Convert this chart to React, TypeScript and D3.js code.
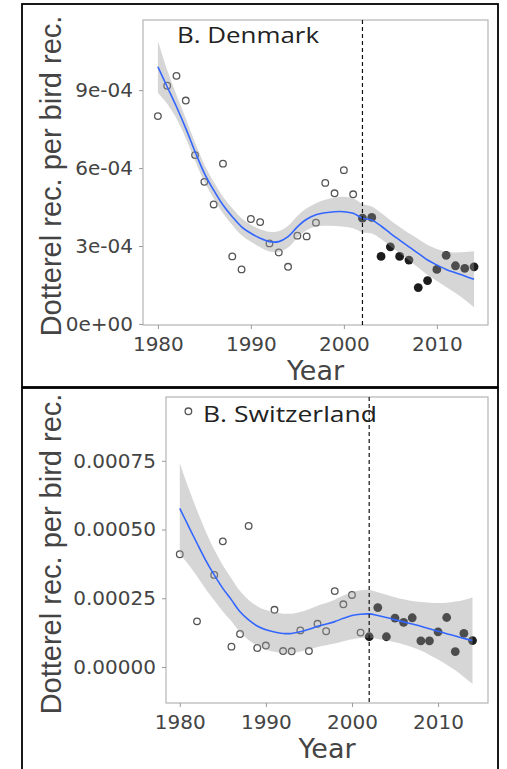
import React, { useEffect, useRef } from "react";
import * as d3 from "d3";

// survey years (Denmark has all years, Switzerland lacks 1983)
const dkYears = [1980, 1981, 1982, 1983, 1984, 1985, 1986, 1987, 1988, 1989,
  1990, 1991, 1992, 1993, 1994, 1995, 1996, 1997, 1998, 1999,
  2000, 2001, 2002, 2003, 2004, 2005, 2006, 2007, 2008, 2009,
  2010, 2011, 2012, 2013, 2014];
const dkValues = [8.0e-4, 9.17e-4, 9.55e-4, 8.6e-4, 6.5e-4, 5.47e-4, 4.6e-4, 6.17e-4, 2.6e-4, 2.1e-4,
  4.04e-4, 3.92e-4, 3.1e-4, 2.75e-4, 2.2e-4, 3.4e-4, 3.37e-4, 3.9e-4, 5.43e-4, 5.03e-4,
  5.92e-4, 4.99e-4, 4.07e-4, 4.1e-4, 2.6e-4, 2.97e-4, 2.6e-4, 2.46e-4, 1.4e-4, 1.67e-4,
  2.1e-4, 2.64e-4, 2.24e-4, 2.14e-4, 2.2e-4];

const chYears = [1980, 1981, 1982, 1984, 1985, 1986, 1987, 1988, 1989,
  1990, 1991, 1992, 1993, 1994, 1995, 1996, 1997, 1998, 1999,
  2000, 2001, 2002, 2003, 2004, 2005, 2006, 2007, 2008, 2009,
  2010, 2011, 2012, 2013, 2014];
const chValues = [4.1e-4, 9.3e-4, 1.66e-4, 3.35e-4, 4.57e-4, 0.74e-4, 1.2e-4, 5.13e-4, 0.69e-4,
  0.78e-4, 2.08e-4, 0.58e-4, 0.57e-4, 1.33e-4, 0.58e-4, 1.57e-4, 1.3e-4, 2.76e-4, 2.28e-4,
  2.62e-4, 1.25e-4, 1.1e-4, 2.16e-4, 1.1e-4, 1.78e-4, 1.62e-4, 1.79e-4, 0.95e-4, 0.95e-4,
  1.28e-4, 1.8e-4, 0.56e-4, 1.22e-4, 0.96e-4];

// loess fit and half-width of its confidence band
const fitYears = dkYears;
const dkFit = [9.9e-4, 9.13e-4, 8.36e-4, 7.53e-4, 6.63e-4, 5.8e-4, 5.15e-4, 4.58e-4, 4.13e-4, 3.74e-4,
  3.49e-4, 3.3e-4, 3.17e-4, 3.17e-4, 3.36e-4, 3.74e-4, 4.03e-4, 4.2e-4, 4.28e-4, 4.32e-4,
  4.32e-4, 4.26e-4, 4.07e-4, 4.0e-4, 3.77e-4, 3.49e-4, 3.23e-4, 2.97e-4, 2.72e-4, 2.46e-4,
  2.27e-4, 2.1e-4, 1.97e-4, 1.85e-4, 1.72e-4];
const dkSe = [1.0e-4, 0.65e-4, 0.45e-4, 0.38e-4, 0.35e-4, 0.33e-4, 0.32e-4, 0.32e-4, 0.32e-4, 0.33e-4,
  0.33e-4, 0.35e-4, 0.38e-4, 0.4e-4, 0.42e-4, 0.42e-4, 0.42e-4, 0.45e-4, 0.5e-4, 0.55e-4,
  0.58e-4, 0.58e-4, 0.55e-4, 0.52e-4, 0.5e-4, 0.5e-4, 0.5e-4, 0.52e-4, 0.55e-4, 0.58e-4,
  0.62e-4, 0.68e-4, 0.78e-4, 0.92e-4, 1.08e-4];
const chFit = [5.77e-4, 5.13e-4, 4.5e-4, 3.89e-4, 3.35e-4, 2.86e-4, 2.44e-4, 2.01e-4, 1.71e-4, 1.49e-4,
  1.35e-4, 1.27e-4, 1.22e-4, 1.22e-4, 1.28e-4, 1.37e-4, 1.48e-4, 1.56e-4, 1.65e-4, 1.77e-4,
  1.87e-4, 1.92e-4, 1.93e-4, 1.87e-4, 1.8e-4, 1.72e-4, 1.64e-4, 1.56e-4, 1.48e-4, 1.39e-4,
  1.3e-4, 1.21e-4, 1.13e-4, 1.04e-4, 0.96e-4];
const chSe = [1.65e-4, 1.4e-4, 1.2e-4, 1.05e-4, 0.92e-4, 0.84e-4, 0.78e-4, 0.75e-4, 0.73e-4, 0.72e-4,
  0.72e-4, 0.72e-4, 0.72e-4, 0.72e-4, 0.72e-4, 0.73e-4, 0.75e-4, 0.77e-4, 0.8e-4, 0.83e-4,
  0.86e-4, 0.87e-4, 0.87e-4, 0.85e-4, 0.83e-4, 0.82e-4, 0.82e-4, 0.84e-4, 0.88e-4, 0.95e-4,
  1.03e-4, 1.13e-4, 1.25e-4, 1.4e-4, 1.57e-4];

const xTicks = [1980, 1990, 2000, 2010];
const dkTicks = [0, 3e-4, 6e-4, 9e-4];
const dkTickLabels = ["0e+00", "3e-04", "6e-04", "9e-04"];
const chTicks = [0, 2.5e-4, 5e-4, 7.5e-4];
const chTickLabels = ["0.00000", "0.00025", "0.00050", "0.00075"];
const breakYear = 2002;

const yTitle = "Dotterel rec. per bird rec.";
const xTitle = "Year";

function drawPanel(svg: any, p: any) {
  const x = d3.scaleLinear().domain(p.xDomain).range([p.left, p.right]);
  const y = d3.scaleLinear().domain(p.yDomain).range([p.bottom, p.top]);

  // outer frame
  svg.append("rect")
    .attr("x", p.frame[0]).attr("y", p.frame[1])
    .attr("width", p.frame[2]).attr("height", p.frame[3])
    .attr("fill", "white").attr("stroke", "black").attr("stroke-width", 1.8);

  svg.append("rect")
    .attr("x", p.left).attr("y", p.top)
    .attr("width", p.right - p.left).attr("height", p.bottom - p.top)
    .attr("fill", "white").attr("stroke", "#b5b5b5").attr("stroke-width", 1.2);

  const xAxis = d3.axisBottom(x).tickValues(p.xTicks).tickFormat(d3.format("d"))
    .tickSize(4).tickPadding(8);
  const yAxis = d3.axisLeft(y).tickValues(p.yTicks)
    .tickFormat((d: any, i: number) => p.yLabels[i]).tickSize(4).tickPadding(6);

  [svg.append("g").attr("transform", "translate(0," + p.bottom + ")").call(xAxis),
   svg.append("g").attr("transform", "translate(" + p.left + ",0)").call(yAxis)]
    .forEach((ax: any) => {
      ax.select(".domain").remove();
      ax.selectAll(".tick line").attr("stroke", "#999");
      ax.selectAll(".tick text")
        .attr("fill", "#444")
        .style("font-family", "'DejaVu Sans', sans-serif")
        .style("font-size", "20px");
    });

  const pts = p.years.map((yr: number, i: number) => ({ yr, v: p.values[i] }));

  svg.append("g").selectAll("circle")
    .data(pts)
    .enter()
    .append("circle")
    .attr("cx", (d: any) => x(d.yr))
    .attr("cy", (d: any) => y(d.v))
    .attr("r", (d: any) => d.yr >= breakYear ? 4.4 : 3.3)
    .attr("fill", (d: any) => d.yr >= breakYear ? "#1c1c1c" : "none")
    .attr("stroke", (d: any) => d.yr >= breakYear ? "none" : "#555")
    .attr("stroke-width", 1.3);

  const fit = fitYears.map((yr, i) => ({ yr, f: p.fit[i], se: p.se[i] }));

  const band = d3.area<any>()
    .x((d) => x(d.yr))
    .y0((d) => y(d.f - d.se))
    .y1((d) => y(d.f + d.se))
    .curve(d3.curveCatmullRom);
  svg.append("path").datum(fit).attr("d", band)
    .attr("fill", "#999").attr("fill-opacity", 0.4);

  const line = d3.line<any>()
    .x((d) => x(d.yr))
    .y((d) => y(d.f))
    .curve(d3.curveCatmullRom);
  svg.append("path").datum(fit).attr("d", line)
    .attr("fill", "none").attr("stroke", "#3366FF").attr("stroke-width", 1.6);

  svg.append("line")
    .attr("x1", x(breakYear)).attr("x2", x(breakYear))
    .attr("y1", p.top).attr("y2", p.bottom)
    .attr("stroke", "#111").attr("stroke-width", 1.2)
    .attr("stroke-dasharray", "4,3");

  svg.append("text")
    .attr("x", p.titleX).attr("y", p.titleY)
    .attr("textLength", p.titleLen).attr("lengthAdjust", "spacingAndGlyphs")
    .style("font-family", "'Open Sans', sans-serif")
    .style("font-size", "22px")
    .attr("fill", "#222")
    .text(p.title);

  svg.append("text")
    .attr("x", (p.left + p.right) / 2).attr("y", p.xTitleY)
    .attr("text-anchor", "middle")
    .style("font-family", "'DejaVu Sans', sans-serif")
    .style("font-size", "27px")
    .attr("fill", "#444")
    .text(xTitle);

  svg.append("text")
    .attr("transform", "translate(61," + p.yTitleMid + ") rotate(-90)")
    .attr("text-anchor", "middle")
    .style("font-family", "'Liberation Sans', Arial, sans-serif")
    .style("font-size", "29px")
    .attr("fill", "#444")
    .text(yTitle);
}

export default function App() {
  const ref = useRef<SVGSVGElement>(null);

  useEffect(() => {
    const svg = d3.select(ref.current);
    svg.selectAll("*").remove();

    drawPanel(svg, {
      frame: [22, 4, 476, 383],
      left: 143, right: 488, top: 20, bottom: 325,
      xDomain: [1978.4, 2015.5], yDomain: [-0.04e-4, 11.7e-4],
      xTicks, yTicks: dkTicks, yLabels: dkTickLabels,
      years: dkYears, values: dkValues, fit: dkFit, se: dkSe,
      title: "B. Denmark", titleX: 177, titleY: 43, titleLen: 142,
      xTitleY: 380, yTitleMid: 176,
    });

    drawPanel(svg, {
      frame: [22, 388, 476, 400],
      left: 166, right: 488, top: 397, bottom: 703,
      xDomain: [1978.4, 2015.8], yDomain: [-1.31e-4, 9.82e-4],
      xTicks, yTicks: chTicks, yLabels: chTickLabels,
      years: chYears, values: chValues, fit: chFit, se: chSe,
      title: "B. Switzerland", titleX: 203, titleY: 422, titleLen: 174,
      xTitleY: 758, yTitleMid: 554,
    });
  }, []);

  return (
    <div style={{ position: "absolute", left: 0, top: 0 }}>
      <svg ref={ref} width={507} height={769} style={{ display: "block", background: "white" }} />
    </div>
  );
}
